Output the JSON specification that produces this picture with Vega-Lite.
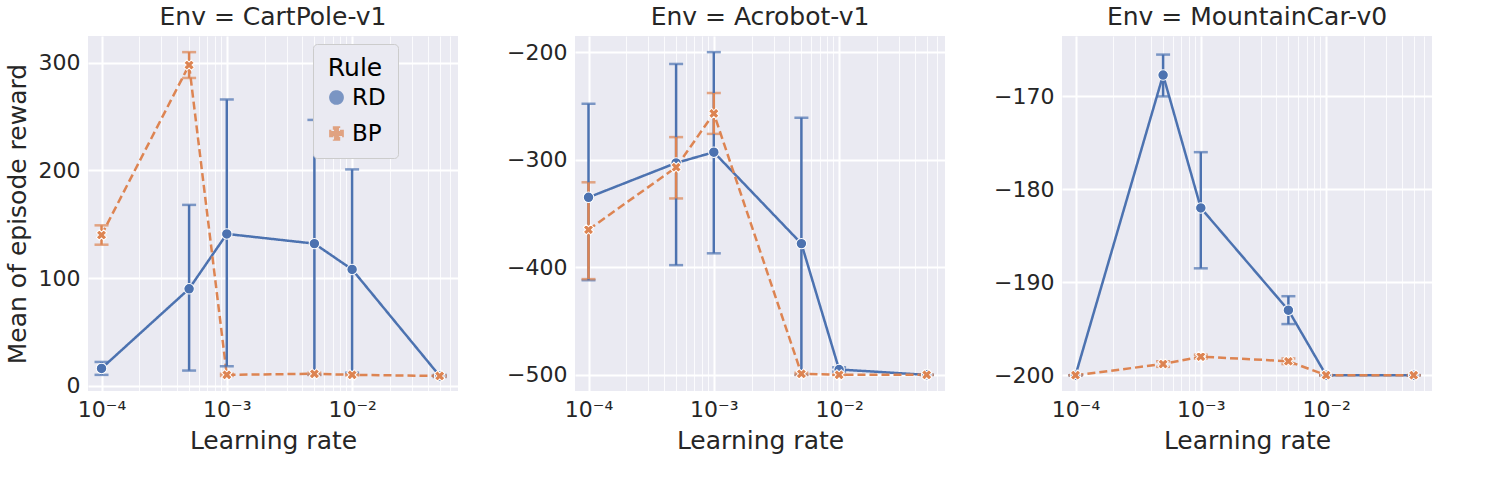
{
  "$schema": "https://vega.github.io/schema/vega-lite/v6.json",
  "background": "white",
  "padding": {"left": 5, "top": 5, "right": 5, "bottom": 5},
  "data": {"values": [
    {"env": "CartPole-v1", "rule": "RD", "lr": 0.0001, "mean": 16, "lo": 10, "hi": 22},
    {"env": "CartPole-v1", "rule": "RD", "lr": 0.0005, "mean": 90, "lo": 14, "hi": 168},
    {"env": "CartPole-v1", "rule": "RD", "lr": 0.001, "mean": 141, "lo": 18, "hi": 266},
    {"env": "CartPole-v1", "rule": "RD", "lr": 0.005, "mean": 132, "lo": 10, "hi": 247},
    {"env": "CartPole-v1", "rule": "RD", "lr": 0.01, "mean": 108, "lo": 12, "hi": 201},
    {"env": "CartPole-v1", "rule": "RD", "lr": 0.05, "mean": 9, "lo": 8, "hi": 10},
    {"env": "CartPole-v1", "rule": "BP", "lr": 0.0001, "mean": 140, "lo": 131, "hi": 149},
    {"env": "CartPole-v1", "rule": "BP", "lr": 0.0005, "mean": 298, "lo": 286, "hi": 310},
    {"env": "CartPole-v1", "rule": "BP", "lr": 0.001, "mean": 10, "lo": 9, "hi": 11},
    {"env": "CartPole-v1", "rule": "BP", "lr": 0.005, "mean": 11, "lo": 10, "hi": 12},
    {"env": "CartPole-v1", "rule": "BP", "lr": 0.01, "mean": 10, "lo": 9.5, "hi": 10.5},
    {"env": "CartPole-v1", "rule": "BP", "lr": 0.05, "mean": 9, "lo": 8.5, "hi": 9.5},
    {"env": "Acrobot-v1", "rule": "RD", "lr": 0.0001, "mean": -335, "lo": -412, "hi": -248},
    {"env": "Acrobot-v1", "rule": "RD", "lr": 0.0005, "mean": -303, "lo": -398, "hi": -211},
    {"env": "Acrobot-v1", "rule": "RD", "lr": 0.001, "mean": -293, "lo": -387, "hi": -200},
    {"env": "Acrobot-v1", "rule": "RD", "lr": 0.005, "mean": -378, "lo": -500, "hi": -261},
    {"env": "Acrobot-v1", "rule": "RD", "lr": 0.01, "mean": -495, "lo": -497, "hi": -493},
    {"env": "Acrobot-v1", "rule": "RD", "lr": 0.05, "mean": -500, "lo": -500, "hi": -500},
    {"env": "Acrobot-v1", "rule": "BP", "lr": 0.0001, "mean": -365, "lo": -411, "hi": -321},
    {"env": "Acrobot-v1", "rule": "BP", "lr": 0.0005, "mean": -307, "lo": -336, "hi": -279},
    {"env": "Acrobot-v1", "rule": "BP", "lr": 0.001, "mean": -257, "lo": -276, "hi": -238},
    {"env": "Acrobot-v1", "rule": "BP", "lr": 0.005, "mean": -499, "lo": -500, "hi": -498},
    {"env": "Acrobot-v1", "rule": "BP", "lr": 0.01, "mean": -500, "lo": -500, "hi": -500},
    {"env": "Acrobot-v1", "rule": "BP", "lr": 0.05, "mean": -500, "lo": -500, "hi": -500},
    {"env": "MountainCar-v0", "rule": "RD", "lr": 0.0001, "mean": -200, "lo": -200, "hi": -200},
    {"env": "MountainCar-v0", "rule": "RD", "lr": 0.0005, "mean": -167.7, "lo": -170, "hi": -165.5},
    {"env": "MountainCar-v0", "rule": "RD", "lr": 0.001, "mean": -182, "lo": -188.5, "hi": -176},
    {"env": "MountainCar-v0", "rule": "RD", "lr": 0.005, "mean": -193, "lo": -194.5, "hi": -191.5},
    {"env": "MountainCar-v0", "rule": "RD", "lr": 0.01, "mean": -200, "lo": -200, "hi": -200},
    {"env": "MountainCar-v0", "rule": "RD", "lr": 0.05, "mean": -200, "lo": -200, "hi": -200},
    {"env": "MountainCar-v0", "rule": "BP", "lr": 0.0001, "mean": -200, "lo": -200, "hi": -200},
    {"env": "MountainCar-v0", "rule": "BP", "lr": 0.0005, "mean": -198.8, "lo": -199.1, "hi": -198.5},
    {"env": "MountainCar-v0", "rule": "BP", "lr": 0.001, "mean": -198, "lo": -198.2, "hi": -197.8},
    {"env": "MountainCar-v0", "rule": "BP", "lr": 0.005, "mean": -198.5, "lo": -198.8, "hi": -198.2},
    {"env": "MountainCar-v0", "rule": "BP", "lr": 0.01, "mean": -200, "lo": -200, "hi": -200},
    {"env": "MountainCar-v0", "rule": "BP", "lr": 0.05, "mean": -200, "lo": -200, "hi": -200}
  ]},
  "spacing": 48,
  "hconcat": [
    {
      "title": "Env = CartPole-v1",
      "width": 370, "height": 355,
      "transform": [{"filter": "datum.env == 'CartPole-v1'"}],
      "encoding": {
        "x": {"field": "lr", "type": "quantitative", "title": "Learning rate",
          "scale": {"type": "log", "domain": [0.000078, 0.07], "nice": false},
          "axis": {"values": [0.0001,0.0002,0.0003,0.0004,0.0005,0.0006,0.0007,0.0008,0.0009,0.001,0.002,0.003,0.004,0.005,0.006,0.007,0.008,0.009,0.01,0.02,0.03,0.04,0.05,0.06,0.07],
            "labelExpr": "datum.value == 0.0001 ? '10⁻⁴' : datum.value == 0.001 ? '10⁻³' : datum.value == 0.01 ? '10⁻²' : ''",
            "gridWidth": {"condition": {"test": "datum.value == 0.0001 || datum.value == 0.001 || datum.value == 0.01", "value": 2}, "value": 0.8}}},
        "color": {"field": "rule", "type": "nominal", "title": "Rule", "scale": {"domain": ["RD", "BP"], "range": ["#4c72b0", "#dd8452"]}}
      },
      "layer": [
        {"mark": {"type": "line", "strokeWidth": 2.5},
         "encoding": {"y": {"field": "mean", "type": "quantitative", "title": "Mean of episode reward", "scale": {"domain": [-5, 325], "nice": false}, "axis": {"values": [0, 100, 200, 300]}},
           "strokeDash": {"field": "rule", "type": "nominal", "title": "Rule", "scale": {"domain": ["RD", "BP"], "range": [[1, 0], [8, 4]]}}}},
        {"mark": {"type": "errorbar", "ticks": {"size": 14, "thickness": 2.5}, "thickness": 2.5},
         "encoding": {"y": {"field": "lo", "type": "quantitative", "title": "Mean of episode reward"}, "y2": {"field": "hi"}}},
        {"mark": {"type": "point", "filled": true, "size": 110, "stroke": "white", "strokeWidth": 1, "angle": 45, "opacity": 1},
         "encoding": {"y": {"field": "mean", "type": "quantitative", "title": "Mean of episode reward"},
           "shape": {"field": "rule", "type": "nominal", "title": "Rule", "scale": {"domain": ["RD", "BP"], "range": ["circle", "cross"]}}}}
      ]
    },
    {
      "title": "Env = Acrobot-v1",
      "width": 370, "height": 355,
      "transform": [{"filter": "datum.env == 'Acrobot-v1'"}],
      "encoding": {
        "x": {"field": "lr", "type": "quantitative", "title": "Learning rate",
          "scale": {"type": "log", "domain": [0.000078, 0.07], "nice": false},
          "axis": {"values": [0.0001,0.0002,0.0003,0.0004,0.0005,0.0006,0.0007,0.0008,0.0009,0.001,0.002,0.003,0.004,0.005,0.006,0.007,0.008,0.009,0.01,0.02,0.03,0.04,0.05,0.06,0.07],
            "labelExpr": "datum.value == 0.0001 ? '10⁻⁴' : datum.value == 0.001 ? '10⁻³' : datum.value == 0.01 ? '10⁻²' : ''",
            "gridWidth": {"condition": {"test": "datum.value == 0.0001 || datum.value == 0.001 || datum.value == 0.01", "value": 2}, "value": 0.8}}},
        "color": {"field": "rule", "type": "nominal", "legend": null, "scale": {"domain": ["RD", "BP"], "range": ["#4c72b0", "#dd8452"]}}
      },
      "layer": [
        {"mark": {"type": "line", "strokeWidth": 2.5},
         "encoding": {"y": {"field": "mean", "type": "quantitative", "title": null, "scale": {"domain": [-515, -185], "nice": false}, "axis": {"values": [-500, -400, -300, -200], "labelExpr": "replace(datum.label, '-', '−')"}},
           "strokeDash": {"field": "rule", "type": "nominal", "legend": null, "scale": {"domain": ["RD", "BP"], "range": [[1, 0], [8, 4]]}}}},
        {"mark": {"type": "errorbar", "ticks": {"size": 14, "thickness": 2.5}, "thickness": 2.5},
         "encoding": {"y": {"field": "lo", "type": "quantitative", "title": null}, "y2": {"field": "hi"}}},
        {"mark": {"type": "point", "filled": true, "size": 110, "stroke": "white", "strokeWidth": 1, "angle": 45, "opacity": 1},
         "encoding": {"y": {"field": "mean", "type": "quantitative", "title": null},
           "shape": {"field": "rule", "type": "nominal", "legend": null, "scale": {"domain": ["RD", "BP"], "range": ["circle", "cross"]}}}}
      ]
    },
    {
      "title": "Env = MountainCar-v0",
      "width": 370, "height": 355,
      "transform": [{"filter": "datum.env == 'MountainCar-v0'"}],
      "encoding": {
        "x": {"field": "lr", "type": "quantitative", "title": "Learning rate",
          "scale": {"type": "log", "domain": [0.000078, 0.07], "nice": false},
          "axis": {"values": [0.0001,0.0002,0.0003,0.0004,0.0005,0.0006,0.0007,0.0008,0.0009,0.001,0.002,0.003,0.004,0.005,0.006,0.007,0.008,0.009,0.01,0.02,0.03,0.04,0.05,0.06,0.07],
            "labelExpr": "datum.value == 0.0001 ? '10⁻⁴' : datum.value == 0.001 ? '10⁻³' : datum.value == 0.01 ? '10⁻²' : ''",
            "gridWidth": {"condition": {"test": "datum.value == 0.0001 || datum.value == 0.001 || datum.value == 0.01", "value": 2}, "value": 0.8}}},
        "color": {"field": "rule", "type": "nominal", "legend": null, "scale": {"domain": ["RD", "BP"], "range": ["#4c72b0", "#dd8452"]}}
      },
      "layer": [
        {"mark": {"type": "line", "strokeWidth": 2.5},
         "encoding": {"y": {"field": "mean", "type": "quantitative", "title": null, "scale": {"domain": [-201.7, -163.5], "nice": false}, "axis": {"values": [-200, -190, -180, -170], "labelExpr": "replace(datum.label, '-', '−')"}},
           "strokeDash": {"field": "rule", "type": "nominal", "legend": null, "scale": {"domain": ["RD", "BP"], "range": [[1, 0], [8, 4]]}}}},
        {"mark": {"type": "errorbar", "ticks": {"size": 14, "thickness": 2.5}, "thickness": 2.5},
         "encoding": {"y": {"field": "lo", "type": "quantitative", "title": null}, "y2": {"field": "hi"}}},
        {"mark": {"type": "point", "filled": true, "size": 110, "stroke": "white", "strokeWidth": 1, "angle": 45, "opacity": 1},
         "encoding": {"y": {"field": "mean", "type": "quantitative", "title": null},
           "shape": {"field": "rule", "type": "nominal", "legend": null, "scale": {"domain": ["RD", "BP"], "range": ["circle", "cross"]}}}}
      ]
    }
  ],
  "resolve": {"scale": {"y": "independent", "color": "shared", "shape": "shared", "strokeDash": "shared"}, "legend": {"color": "independent", "shape": "independent", "strokeDash": "independent"}},
  "config": {
    "font": "DejaVu Sans",
    "view": {"fill": "#eaeaf2", "stroke": null},
    "title": {"fontSize": 25, "fontWeight": "normal", "color": "#262626", "offset": 6},
    "axis": {"domain": false, "ticks": false, "gridColor": "white", "gridWidth": 2, "labelFontSize": 22, "titleFontSize": 25, "titleFontWeight": "normal", "labelColor": "#262626", "titleColor": "#262626", "labelPadding": 8, "titlePadding": 8},
    "axisX": {"labelFlush": false},
    "legend": {"orient": "none", "legendX": 225, "legendY": 8, "titleFontSize": 25, "titleFontWeight": "normal", "labelFontSize": 23, "symbolSize": 150, "symbolStrokeWidth": 2.5, "fillColor": "#eaeaf2", "strokeColor": "#cccccc", "padding": 12, "cornerRadius": 4, "titleAnchor": "middle", "symbolType": "stroke", "rowPadding": 12}
  }
}
